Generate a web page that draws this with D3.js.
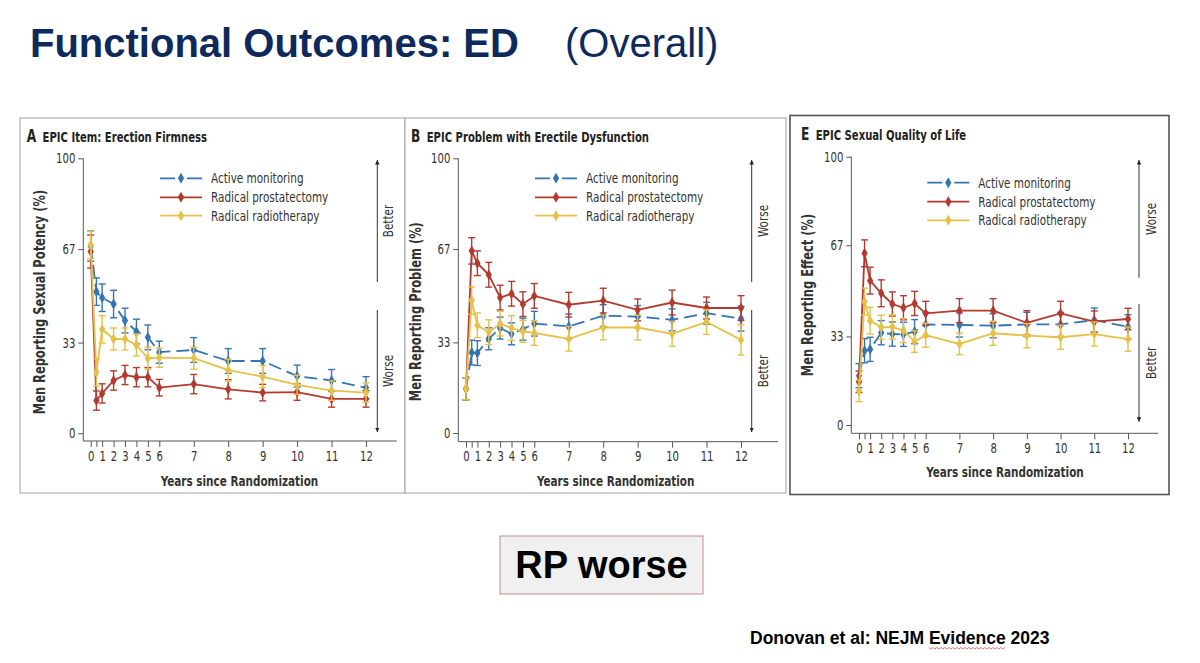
<!DOCTYPE html>
<html>
<head>
<meta charset="utf-8">
<script src="https://cdn.jsdelivr.net/npm/d3@7"></script>
<style>
  body { margin: 0; background: #fff; }
  svg { display: block; }
</style>
</head>
<body>
<div id="canvas"></div>
<script>
// years of follow-up (0.5 = 6 months, tick without label)
const years = [0, 0.5, 1, 2, 3, 4, 5, 6, 7, 8, 9, 10, 11, 12];
const xTickLabels = ["0", "", "1", "2", "3", "4", "5", "6", "7", "8", "9", "10", "11", "12"];
const yTicks = [0, 33, 67, 100];
const seriesNames = ["Active monitoring", "Radical prostatectomy", "Radical radiotherapy"];

// A - erection firmness
const firmnessAM = [68.1, 51.5, 49.3, 47.0, 41.0, 37.0, 34.9, 29.5, 30.3, 26.3, 26.3, 20.8, 19.2, 16.6];
const firmnessAMci = [5.5, 5, 5, 5, 4.5, 4.5, 4.5, 4, 4.5, 4.5, 4.5, 4, 4, 4];
const firmnessRP = [66.1, 11.9, 14.5, 19.2, 21.2, 20.4, 20.4, 16.6, 17.9, 16.0, 14.8, 15.0, 12.5, 12.5];
const firmnessRPci = [6, 3.5, 3.5, 3.5, 3.5, 3.5, 3.5, 3, 3.5, 3.5, 3, 3, 3, 3];
const firmnessRT = [68.5, 22.2, 37.8, 34.3, 34.3, 32.1, 27.3, 27.5, 27.3, 23.0, 20.6, 17.6, 15.5, 14.8];
const firmnessRTci = [5, 5, 5, 4, 4, 4, 4, 3.5, 4, 4, 4, 3.5, 3.5, 3.5];

// B - problem with erectile dysfunction
const problemAM = [16.1, 29.3, 29.1, 34.3, 38.2, 36.1, 37.8, 39.8, 38.8, 42.7, 42.4, 41.2, 43.6, 41.6];
const problemAMci = [4, 4.5, 4.5, 4, 4, 4, 4, 4.5, 4.5, 4, 4, 4, 4, 4.5];
const problemRP = [16.1, 66.3, 61.8, 57.6, 49.3, 50.7, 46.9, 49.9, 46.7, 48.2, 44.8, 47.5, 45.5, 45.5];
const problemRPci = [4, 4.8, 4.5, 4.5, 4.5, 4.5, 4.5, 4.5, 4.5, 4.5, 4, 4.5, 4, 4.5];
const problemRT = [16.1, 48.2, 39.2, 36.7, 39.8, 38.2, 37.0, 36.4, 34.3, 38.4, 38.4, 36.1, 40.4, 33.9];
const problemRTci = [4, 5, 4.5, 4.5, 4.5, 4.5, 4, 4.5, 4.5, 4.5, 4.5, 4.5, 4.5, 5.5];

// E - sexual quality of life
const qolAM = [18.4, 27.7, 28.2, 34.4, 33.9, 33.8, 34.8, 37.5, 37.3, 37.0, 37.5, 37.5, 39.1, 36.6];
const qolAMci = [4.5, 4.5, 4.5, 4.5, 4.5, 4.5, 4.5, 4.5, 4.5, 4.5, 4.5, 4.5, 4.5, 4.5];
const qolRP = [16.1, 64.0, 53.8, 49.1, 45.1, 43.7, 45.3, 41.6, 42.6, 42.6, 38.1, 41.6, 38.5, 39.5];
const qolRPci = [4, 5, 5, 5, 4.5, 4.5, 4.5, 4.5, 4.5, 4.5, 4.5, 4.5, 4, 4];
const qolRT = [12.7, 46.0, 38.9, 36.4, 36.6, 35.2, 31.1, 33.5, 30.2, 34.2, 33.3, 32.7, 33.9, 32.0];
const qolRTci = [4, 5, 5, 4.5, 4.5, 4.5, 4, 4.5, 4, 4.5, 4.5, 4.5, 4.5, 4.5];

const colors = ["#3574b4", "#b43a2f", "#e6c14a"];
const dashes = ["13,6", null, null];
const legendDashes = ["15,12,15", null, null];
const narrow = "'DejaVu Sans Condensed', 'Liberation Sans Narrow', sans-serif";
const arial = "'Liberation Sans', Arial, sans-serif";
const squeeze = 0.8; // journal figure uses a condensed face

const panels = [
  {
    letter: "A", title: "EPIC Item: Erection Firmness", ytitle: "Men Reporting Sexual Potency (%)",
    series: [[firmnessAM, firmnessAMci], [firmnessRP, firmnessRPci], [firmnessRT, firmnessRTci]],
    box: [20, 118, 385, 375], stroke: "#a0a0a0", sw: 1,
    axisX: 83.3, axisY: 441, xr: [90.7, 159.3, 366], axisEnd: 396.7, yr: [433.3, 158.3],
    titleX: 26.7, titleY: 141.5, legX: 160, legRows: [178.3, 197.3, 215.7],
    arrowX: 377.3, up: [160, 282], down: [310, 432], arrowText: ["Better", "Worse"], arrowTextX: 388,
    xtickY: 461, xtitleX: 239.5, xtitleY: 486, ytitleX: 40, ytitleY: 302
  },
  {
    letter: "B", title: "EPIC Problem with Erectile Dysfunction", ytitle: "Men Reporting Problem (%)",
    series: [[problemAM, problemAMci], [problemRP, problemRPci], [problemRT, problemRTci]],
    box: [405, 118, 381, 375], stroke: "#a0a0a0", sw: 1,
    axisX: 458.3, axisY: 441.7, xr: [466, 534.3, 741], axisEnd: 778, yr: [433, 158.3],
    titleX: 411, titleY: 141.5, legX: 535, legRows: [178.3, 197.3, 215.7],
    arrowX: 751.7, up: [160, 282], down: [310, 432], arrowText: ["Worse", "Better"], arrowTextX: 763,
    xtickY: 461, xtitleX: 615.7, xtitleY: 486, ytitleX: 416, ytitleY: 311.7
  },
  {
    letter: "E", title: "EPIC Sexual Quality of Life", ytitle: "Men Reporting Effect (%)",
    series: [[qolAM, qolAMci], [qolRP, qolRPci], [qolRT, qolRTci]],
    box: [790, 115.5, 379, 379], stroke: "#555", sw: 1.6,
    axisX: 851.3, axisY: 433.3, xr: [859, 925.7, 1128], axisEnd: 1158, yr: [425, 156.7],
    titleX: 801, titleY: 139.5, legX: 927.3, legRows: [182.7, 201.7, 220.3],
    arrowX: 1139, up: [160, 277.7], down: [304, 421.7], arrowText: ["Worse", "Better"], arrowTextX: 1151.3,
    xtickY: 453, xtitleX: 1005, xtitleY: 476.5, ytitleX: 808, ytitleY: 295
  }
];

const width = 1200;
const height = 663;
const svg = d3.select("#canvas").append("svg").attr("width", width).attr("height", height);

svg.append("defs").append("marker")
  .attr("id", "head")
  .attr("viewBox", "0 0 10 10")
  .attr("refX", 10).attr("refY", 5)
  .attr("markerWidth", 4.5).attr("markerHeight", 4.5)
  .attr("orient", "auto-start-reverse")
  .append("path").attr("d", "M0,0 L10,5 L0,10 z").attr("fill", "#222");

// condensed text helper: place, optionally rotate, squeeze along the baseline
const label = (g, x, y, txt, size, opts = {}) => {
  const k = opts.k || squeeze;
  return g.append("text")
    .attr("transform", `translate(${x},${y}) rotate(${opts.rot || 0}) scale(${k},1)`)
    .attr("text-anchor", opts.anchor || "start")
    .attr("dy", opts.dy || null)
    .attr("fill", opts.fill || "#333")
    .attr("font-weight", opts.bold ? "bold" : null)
    .style("font-family", narrow).style("font-size", size + "px")
    .text(txt);
};

// slide title
const head = svg.append("text").attr("x", 30).attr("y", 57).attr("fill", "#0e2a5c")
  .style("font-family", arial).style("font-size", "40px");
head.append("tspan").attr("font-weight", "bold").text("Functional Outcomes: ED");
head.append("tspan").attr("x", 565).text("(Overall)");

panels.forEach(p => {
  const g = svg.append("g");
  const [bx, by, bw, bh] = p.box;
  g.append("rect").attr("x", bx).attr("y", by).attr("width", bw).attr("height", bh)
    .attr("fill", "#fff").attr("stroke", p.stroke).attr("stroke-width", p.sw);

  // piecewise x: first six years squeezed
  const x = d3.scaleLinear().domain([0, 6, 12]).range(p.xr);
  const y = d3.scaleLinear().domain([0, 100]).range(p.yr);

  // axes
  const yAxis = g.append("g").attr("transform", `translate(${p.axisX},0)`)
    .call(d3.axisLeft(y).tickValues(yTicks).tickSize(5).tickPadding(2));
  const xAxis = g.append("g").attr("transform", `translate(0,${p.axisY})`)
    .call(d3.axisBottom(x).tickValues(years).tickSize(6).tickPadding(3)
      .tickFormat((d, i) => xTickLabels[i]));
  [yAxis, xAxis].forEach(a => {
    a.select(".domain").remove();
    a.selectAll("line").attr("stroke", "#555");
    a.selectAll("text").attr("fill", "#333").style("font-family", narrow).style("font-size", "14px");
  });
  yAxis.selectAll("text").attr("x", null).attr("transform", `translate(-8,0) scale(${squeeze},1)`);
  xAxis.selectAll("text").attr("dy", null).attr("y", null)
    .attr("transform", `translate(0,${p.xtickY - p.axisY}) scale(${squeeze},1)`);
  g.append("line").attr("x1", p.axisX).attr("x2", p.axisX).attr("y1", y(100)).attr("y2", p.axisY)
    .attr("stroke", "#555");
  g.append("line").attr("x1", p.axisX).attr("x2", p.axisEnd).attr("y1", p.axisY).attr("y2", p.axisY)
    .attr("stroke", "#555");

  // titles
  const t = label(g, p.titleX, p.titleY, null, 14, { bold: true, fill: "#222" });
  t.append("tspan").style("font-size", "17px").text(p.letter);
  t.append("tspan").attr("dx", 8).text(p.title);

  label(g, p.xtitleX, p.xtitleY, "Years since Randomization", 14.5, { anchor: "middle", bold: true });
  label(g, p.ytitleX, p.ytitleY, p.ytitle, 15, { anchor: "middle", bold: true, rot: -90, dy: "0.35em", k: 0.85 });

  // better / worse arrows
  [p.up, p.down].forEach((r, i) => {
    g.append("line").attr("x1", p.arrowX).attr("x2", p.arrowX)
      .attr("y1", i === 0 ? r[1] : r[0]).attr("y2", i === 0 ? r[0] : r[1])
      .attr("stroke", "#333").attr("stroke-width", 1).attr("marker-end", "url(#head)");
    label(g, p.arrowTextX, (r[0] + r[1]) / 2, p.arrowText[i], 14.5, { anchor: "middle", rot: -90, dy: "0.35em" });
  });

  // series: error bars, line, diamonds
  const line = d3.line().x((d, i) => x(years[i])).y(d => y(d));
  const diamond = d3.symbol().type(d3.symbolDiamond).size(34);
  p.series.forEach(([vals, ci], s) => {
    const c = colors[s];
    const eb = g.append("g").attr("stroke", c).attr("stroke-width", 1.4);
    vals.forEach((v, i) => {
      const cx = x(years[i]);
      eb.append("line").attr("x1", cx).attr("x2", cx).attr("y1", y(v - ci[i])).attr("y2", y(v + ci[i]));
      [v - ci[i], v + ci[i]].forEach(e => {
        eb.append("line").attr("x1", cx - 3.5).attr("x2", cx + 3.5).attr("y1", y(e)).attr("y2", y(e));
      });
    });
    g.append("path").datum(vals).attr("d", line).attr("fill", "none")
      .attr("stroke", c).attr("stroke-width", 1.8).attr("stroke-dasharray", dashes[s]);
    g.selectAll(null).data(vals).enter().append("path")
      .attr("transform", (d, i) => `translate(${x(years[i])},${y(d)})`)
      .attr("d", diamond).attr("fill", c);
  });

  // legend
  seriesNames.forEach((name, s) => {
    const ly = p.legRows[s];
    g.append("line").attr("x1", p.legX).attr("x2", p.legX + 42).attr("y1", ly).attr("y2", ly)
      .attr("stroke", colors[s]).attr("stroke-width", 1.8).attr("stroke-dasharray", legendDashes[s]);
    g.append("path").attr("transform", `translate(${p.legX + 21},${ly})`)
      .attr("d", diamond).attr("fill", colors[s]);
    label(g, p.legX + 51, ly, name, 14.5, { dy: "0.35em" });
  });
});

// verdict box
svg.append("rect").attr("x", 500).attr("y", 536).attr("width", 203).attr("height", 58)
  .attr("fill", "#f0f0f0").attr("stroke", "#c48a8a").attr("stroke-width", 1);
svg.append("text").attr("x", 601.5).attr("y", 578).attr("text-anchor", "middle")
  .attr("font-weight", "bold").attr("fill", "#000")
  .style("font-family", arial).style("font-size", "38px").text("RP worse");

// citation, with the spell-check squiggle under "Evidence"
const citeText = "Donovan et al: NEJM Evidence 2023";
const cite = svg.append("text").attr("x", 750).attr("y", 644).attr("font-weight", "bold").attr("fill", "#000")
  .style("font-family", arial).style("font-size", "17.5px").text(citeText);
const from = citeText.indexOf("Evidence");
const sx = cite.node().getStartPositionOfChar(from).x;
const sw = cite.node().getSubStringLength(from, "Evidence".length);
const zig = d3.range(0, Math.floor(sw / 2) + 1).map(i => [sx + i * 2, 648 + (i % 2 ? 1 : -0.5)]);
svg.append("path").attr("d", d3.line()(zig)).attr("fill", "none").attr("stroke", "#d9534f").attr("stroke-width", 0.8);
</script>
</body>
</html>
